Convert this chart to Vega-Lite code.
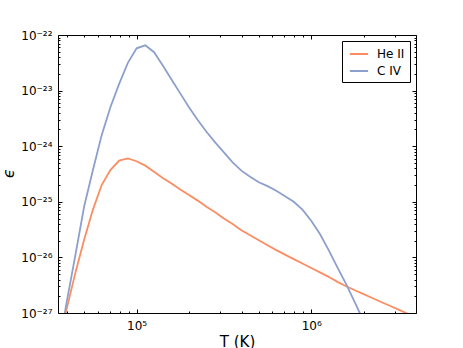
{
  "$schema": "https://vega.github.io/schema/vega-lite/v6.json",
  "width": 358,
  "height": 278,
  "autosize": {"type": "none"},
  "padding": {"left": 58, "top": 35, "right": 47, "bottom": 35},
  "background": "white",
  "config": {
    "font": "DejaVu Sans",
    "view": {"stroke": "black", "strokeWidth": 1},
    "axis": {"labelFont": "DejaVu Sans", "titleFont": "DejaVu Sans", "labelColor": "black", "titleColor": "black", "grid": false, "domain": false, "tickColor": "black", "labelFontSize": 12, "titleFontWeight": "normal", "titleFontSize": 15},
    "legend": {"orient": "top-right", "offset": 6, "padding": 5, "strokeColor": "black", "strokeWidth": 1, "fillColor": "white", "cornerRadius": 0, "labelFont": "DejaVu Sans", "labelFontSize": 12, "labelColor": "black", "symbolType": "M-1.3,0H1.3", "symbolStrokeWidth": 2, "symbolSize": 196, "symbolOffset": 4, "labelOffset": 10, "rowPadding": 3}
  },
  "data": {"values": [
    {"T": 35481, "eps": 2.69e-28, "ion": "He II"},
    {"T": 39811, "eps": 1.20e-27, "ion": "He II"},
    {"T": 44668, "eps": 5.37e-27, "ion": "He II"},
    {"T": 50119, "eps": 2.09e-26, "ion": "He II"},
    {"T": 56234, "eps": 7.24e-26, "ion": "He II"},
    {"T": 63096, "eps": 2.00e-25, "ion": "He II"},
    {"T": 70795, "eps": 3.72e-25, "ion": "He II"},
    {"T": 79433, "eps": 5.50e-25, "ion": "He II"},
    {"T": 89125, "eps": 6.03e-25, "ion": "He II"},
    {"T": 100000, "eps": 5.37e-25, "ion": "He II"},
    {"T": 112202, "eps": 4.47e-25, "ion": "He II"},
    {"T": 125893, "eps": 3.47e-25, "ion": "He II"},
    {"T": 141254, "eps": 2.69e-25, "ion": "He II"},
    {"T": 158489, "eps": 2.14e-25, "ion": "He II"},
    {"T": 177828, "eps": 1.66e-25, "ion": "He II"},
    {"T": 199526, "eps": 1.32e-25, "ion": "He II"},
    {"T": 223872, "eps": 1.05e-25, "ion": "He II"},
    {"T": 251189, "eps": 8.13e-26, "ion": "He II"},
    {"T": 281838, "eps": 6.46e-26, "ion": "He II"},
    {"T": 316228, "eps": 5.01e-26, "ion": "He II"},
    {"T": 354813, "eps": 3.98e-26, "ion": "He II"},
    {"T": 398107, "eps": 3.09e-26, "ion": "He II"},
    {"T": 446684, "eps": 2.51e-26, "ion": "He II"},
    {"T": 501187, "eps": 2.04e-26, "ion": "He II"},
    {"T": 562341, "eps": 1.66e-26, "ion": "He II"},
    {"T": 630957, "eps": 1.35e-26, "ion": "He II"},
    {"T": 707946, "eps": 1.12e-26, "ion": "He II"},
    {"T": 794328, "eps": 9.33e-27, "ion": "He II"},
    {"T": 891251, "eps": 7.76e-27, "ion": "He II"},
    {"T": 1000000, "eps": 6.46e-27, "ion": "He II"},
    {"T": 1122018, "eps": 5.37e-27, "ion": "He II"},
    {"T": 1258925, "eps": 4.47e-27, "ion": "He II"},
    {"T": 1412538, "eps": 3.63e-27, "ion": "He II"},
    {"T": 1584893, "eps": 3.02e-27, "ion": "He II"},
    {"T": 1778279, "eps": 2.57e-27, "ion": "He II"},
    {"T": 1995262, "eps": 2.19e-27, "ion": "He II"},
    {"T": 2238721, "eps": 1.86e-27, "ion": "He II"},
    {"T": 2511886, "eps": 1.58e-27, "ion": "He II"},
    {"T": 2818383, "eps": 1.35e-27, "ion": "He II"},
    {"T": 3162278, "eps": 1.15e-27, "ion": "He II"},
    {"T": 3548134, "eps": 9.77e-28, "ion": "He II"},
    {"T": 3981072, "eps": 8.32e-28, "ion": "He II"},
    {"T": 35481, "eps": 2.0e-28, "ion": "C IV"},
    {"T": 39811, "eps": 1.58e-27, "ion": "C IV"},
    {"T": 44668, "eps": 1.12e-26, "ion": "C IV"},
    {"T": 50119, "eps": 8.32e-26, "ion": "C IV"},
    {"T": 56234, "eps": 3.72e-25, "ion": "C IV"},
    {"T": 63096, "eps": 1.58e-24, "ion": "C IV"},
    {"T": 70795, "eps": 5.01e-24, "ion": "C IV"},
    {"T": 79433, "eps": 1.32e-23, "ion": "C IV"},
    {"T": 89125, "eps": 3.16e-23, "ion": "C IV"},
    {"T": 100000, "eps": 5.75e-23, "ion": "C IV"},
    {"T": 112202, "eps": 6.53e-23, "ion": "C IV"},
    {"T": 125893, "eps": 4.90e-23, "ion": "C IV"},
    {"T": 141254, "eps": 2.82e-23, "ion": "C IV"},
    {"T": 158489, "eps": 1.58e-23, "ion": "C IV"},
    {"T": 177828, "eps": 8.91e-24, "ion": "C IV"},
    {"T": 199526, "eps": 5.01e-24, "ion": "C IV"},
    {"T": 223872, "eps": 2.95e-24, "ion": "C IV"},
    {"T": 251189, "eps": 1.82e-24, "ion": "C IV"},
    {"T": 281838, "eps": 1.17e-24, "ion": "C IV"},
    {"T": 316228, "eps": 7.76e-25, "ion": "C IV"},
    {"T": 354813, "eps": 5.13e-25, "ion": "C IV"},
    {"T": 398107, "eps": 3.63e-25, "ion": "C IV"},
    {"T": 446684, "eps": 2.82e-25, "ion": "C IV"},
    {"T": 501187, "eps": 2.24e-25, "ion": "C IV"},
    {"T": 562341, "eps": 1.91e-25, "ion": "C IV"},
    {"T": 630957, "eps": 1.58e-25, "ion": "C IV"},
    {"T": 707946, "eps": 1.26e-25, "ion": "C IV"},
    {"T": 794328, "eps": 1.00e-25, "ion": "C IV"},
    {"T": 891251, "eps": 7.24e-26, "ion": "C IV"},
    {"T": 1000000, "eps": 4.57e-26, "ion": "C IV"},
    {"T": 1122018, "eps": 2.63e-26, "ion": "C IV"},
    {"T": 1258925, "eps": 1.35e-26, "ion": "C IV"},
    {"T": 1412538, "eps": 6.61e-27, "ion": "C IV"},
    {"T": 1584893, "eps": 3.31e-27, "ion": "C IV"},
    {"T": 1778279, "eps": 1.55e-27, "ion": "C IV"},
    {"T": 1995262, "eps": 7.08e-28, "ion": "C IV"},
    {"T": 2238721, "eps": 3.16e-28, "ion": "C IV"}
  ]},
  "layer": [
    {
      "mark": {"type": "line", "clip": true, "strokeWidth": 1.8},
      "encoding": {
        "x": {"field": "T", "type": "quantitative",
          "scale": {"type": "log", "domain": [35481, 3981072], "nice": false},
          "axis": {"orient": "bottom", "values": [100000, 1000000], "labelExpr": "datum.value < 500000 ? '10⁵' : '10⁶'", "ticks": false, "tickSize": 0, "labelPadding": 7, "labelFlush": false, "title": "T (K)", "titleX": 179, "titleY": 33, "titleBaseline": "alphabetic"}},
        "y": {"field": "eps", "type": "quantitative",
          "scale": {"type": "log", "domain": [1e-27, 1e-22], "nice": false},
          "axis": {"orient": "left", "values": [1e-27, 1e-26, 1e-25, 1e-24, 1e-23, 1e-22], "labelExpr": "'10⁻²' + substring('⁰¹²³⁴⁵⁶⁷⁸⁹', -round(log(datum.value)/LN10)-20, -round(log(datum.value)/LN10)-19)", "ticks": false, "tickSize": 0, "labelPadding": 6, "labelFlush": false, "labelOverlap": false, "title": "ϵ", "titleX": -45, "titleY": 138, "titleBaseline": "alphabetic", "titleFontStyle": "italic"}},
        "color": {"field": "ion", "type": "nominal", "scale": {"domain": ["He II", "C IV"], "range": ["#fc8d62", "#8da0cb"]}, "legend": {"title": null}}
      }
    },
    {
      "mark": {"type": "line", "strokeOpacity": 0},
      "encoding": {
        "x": {"field": "T", "type": "quantitative", "axis": {"orient": "bottom", "values": [100000, 1000000], "labels": false, "title": null, "tickSize": -4}},
        "y": {"field": "eps", "type": "quantitative", "axis": {"orient": "left", "values": [1e-27, 1e-26, 1e-25, 1e-24, 1e-23, 1e-22], "labels": false, "title": null, "tickSize": -4}}
      }
    },
    {
      "mark": {"type": "line", "strokeOpacity": 0},
      "encoding": {
        "x": {"field": "T", "type": "quantitative", "axis": {"orient": "bottom", "values": [40000, 50000, 60000, 70000, 80000, 90000, 200000, 300000, 400000, 500000, 600000, 700000, 800000, 900000, 2000000, 3000000], "labels": false, "title": null, "tickSize": -2}},
        "y": {"field": "eps", "type": "quantitative", "axis": {"orient": "left", "values": [2e-27, 3e-27, 4e-27, 5e-27, 6e-27, 7e-27, 8e-27, 9e-27, 2e-26, 3e-26, 4e-26, 5e-26, 6e-26, 7e-26, 8e-26, 9e-26, 2e-25, 3e-25, 4e-25, 5e-25, 6e-25, 7e-25, 8e-25, 9e-25, 2e-24, 3e-24, 4e-24, 5e-24, 6e-24, 7e-24, 8e-24, 9e-24, 2e-23, 3e-23, 4e-23, 5e-23, 6e-23, 7e-23, 8e-23, 9e-23], "labels": false, "title": null, "tickSize": -2}}
      }
    },
    {
      "mark": {"type": "line", "strokeOpacity": 0},
      "encoding": {
        "x": {"field": "T", "type": "quantitative", "axis": {"orient": "top", "values": [100000, 1000000], "labels": false, "title": null, "tickSize": -4}},
        "y": {"field": "eps", "type": "quantitative", "axis": {"orient": "right", "values": [1e-27, 1e-26, 1e-25, 1e-24, 1e-23, 1e-22], "labels": false, "title": null, "tickSize": -4}}
      }
    },
    {
      "mark": {"type": "line", "strokeOpacity": 0},
      "encoding": {
        "x": {"field": "T", "type": "quantitative", "axis": {"orient": "top", "values": [40000, 50000, 60000, 70000, 80000, 90000, 200000, 300000, 400000, 500000, 600000, 700000, 800000, 900000, 2000000, 3000000], "labels": false, "title": null, "tickSize": -2}},
        "y": {"field": "eps", "type": "quantitative", "axis": {"orient": "right", "values": [2e-27, 3e-27, 4e-27, 5e-27, 6e-27, 7e-27, 8e-27, 9e-27, 2e-26, 3e-26, 4e-26, 5e-26, 6e-26, 7e-26, 8e-26, 9e-26, 2e-25, 3e-25, 4e-25, 5e-25, 6e-25, 7e-25, 8e-25, 9e-25, 2e-24, 3e-24, 4e-24, 5e-24, 6e-24, 7e-24, 8e-24, 9e-24, 2e-23, 3e-23, 4e-23, 5e-23, 6e-23, 7e-23, 8e-23, 9e-23], "labels": false, "title": null, "tickSize": -2}}
      }
    }
  ]
}
